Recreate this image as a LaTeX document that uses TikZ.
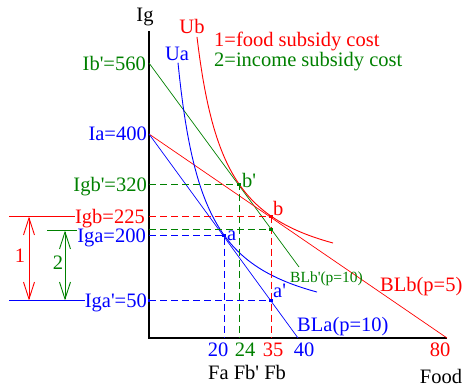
\documentclass[tikz,border=0pt]{standalone}
\usepackage{fontspec}
\setmainfont{Liberation Serif}[Ligatures=TeXOff]
\usepackage{xcolor}
\definecolor{costRed}{HTML}{FF0000}
\definecolor{incGreen}{HTML}{008000}
\definecolor{foodBlue}{HTML}{0000FF}
\usetikzlibrary{positioning,calc,arrows.meta}
\newcommand{\tagfont}{\fontsize{20.5}{22}\selectfont}
\newcommand{\smalltagfont}{\fontsize{15.5}{17}\selectfont}
\tikzset{%
  axisLine/.style={%
    black,
    line width=1.2pt
  },
  budgetLine/.style={%
    line width=0.7pt
  },
  curveLine/.style={%
    line width=0.9pt
  },
  guideLine/.style={%
    line width=0.9pt,
    dash pattern=on 7pt off 4pt
  },
  tagLabel/.style={%
    font=\tagfont,
    inner sep=0pt,
    text depth=0pt
  },
  smallTag/.style={%
    font=\smalltagfont,
    inner sep=0pt
  },
  dotMark/.style={%
    rectangle,
    inner sep=0pt,
    minimum size=3.6pt
  },
  costArrow/.style={%
    {Straight Barb[length=17pt,width=11pt]}-{Straight Barb[length=17pt,width=11pt]},
    line width=0.9pt
  }
}

\begin{document}
\begin{tikzpicture}[x=1pt,y=-1pt]
  \useasboundingbox (0,0) rectangle (468,388);

  % axes
  \coordinate (origin) at (149,338);
  \coordinate (igTop) at (149,31);
  \coordinate (foodEnd) at (447,338);
  \draw[axisLine] (igTop) -- (origin) -- (foodEnd);
  \node[tagLabel, anchor=base, text depth=] (igLabel) at (145,21) {Ig};
  \node[tagLabel] (foodLabel) at (441,376) {Food};

  % budget lines
  \coordinate (Ibp) at (149,63);
  \coordinate (Ia) at (149,134);
  \coordinate (BLaEnd) at (298,338);
  \coordinate (BLbpEnd) at (299,267);
  \draw[budgetLine, incGreen] (Ibp) -- (BLbpEnd);
  \draw[budgetLine, costRed] (Ia) -- (foodEnd);
  \draw[budgetLine, foodBlue] (Ia) -- (BLaEnd);

  % indifference curves
  \draw[curveLine, foodBlue] plot[domain=178:317, samples=90] (\x,{336.9-7457/(\x-150.8)});
  \draw[curveLine, costRed] plot[domain=197:333, samples=90] (\x,{288-7457/(\x-167.3)});

  % chosen points
  \coordinate (bp) at (239,184.5);
  \coordinate (b) at (271,216.5);
  \coordinate (g) at (271,229.5);
  \coordinate (a) at (224,235.5);
  \coordinate (ap) at (271,300.5);

  % guides to the axes
  \draw[guideLine, incGreen] (origin |- bp) -- (bp) -- (bp |- origin);
  \draw[guideLine, costRed] (origin |- b) -- (b) -- (b |- origin);
  \draw[guideLine, incGreen] (origin |- g) -- (g);
  \draw[guideLine, foodBlue] (origin |- a) -- (a) -- (a |- origin);
  \draw[guideLine, foodBlue] (origin |- ap) -- (ap);

  \node[dotMark, fill=incGreen] (bpDot) at (bp) {};
  \node[dotMark, fill=costRed] (bDot) at (b) {};
  \node[dotMark, fill=incGreen] (gDot) at (g) {};
  \node[dotMark, fill=foodBlue] (aDot) at (a) {};
  \node[dotMark, fill=foodBlue] (apDot) at (ap) {};
  \node[dotMark, fill=foodBlue, minimum size=2.6pt] (iapDot) at (origin |- ap) {};

  % point names
  \node[tagLabel, foodBlue, anchor=base west] (aTag) at (227,240) {a};
  \node[tagLabel, incGreen, anchor=base west] (bpTag) at (242,187) {b'};
  \node[tagLabel, costRed, anchor=base west] (bTag) at (273,215) {b};
  \node[tagLabel, foodBlue, anchor=base west] (apTag) at (273,297) {a'};

  % curve and line names
  \node[tagLabel, costRed, anchor=base] (UbTag) at (192,33) {Ub};
  \node[tagLabel, foodBlue, anchor=base] (UaTag) at (177,60) {Ua};
  \node[smallTag, incGreen, anchor=base west] (BLbpTag) at (290,282) {BLb'(p=10)};
  \node[tagLabel, foodBlue, anchor=base west, text depth=] (BLaTag) at (297,331) {BLa(p=10)};
  \node[tagLabel, costRed, anchor=base west, text depth=] (BLbTag) at (380,291) {BLb(p=5)};

  % legend
  \node[tagLabel, costRed, anchor=base west, text depth=] (legendOne) at (214,46) {1=food subsidy cost};
  \node[tagLabel, incGreen, anchor=base west, text depth=] (legendTwo) at (214,66) {2=income subsidy cost};

  % income values
  \coordinate (Igbp) at (origin |- bp);
  \coordinate (Igb) at (origin |- b);
  \coordinate (Iga) at (origin |- a);
  \coordinate (Igap) at (origin |- ap);
  \node[tagLabel, incGreen, left=3pt of Ibp] (IbpLabel) {Ib'=560};
  \node[tagLabel, foodBlue, left=2pt of Ia] (IaLabel) {Ia=400};
  \node[tagLabel, incGreen, left=2pt of Igbp] (IgbpLabel) {Igb'=320};
  \node[tagLabel, costRed, left=4pt of Igb] (IgbLabel) {Igb=225};
  \node[tagLabel, foodBlue, left=3pt of Iga] (IgaLabel) {Iga=200};
  \node[tagLabel, foodBlue, left=2pt of Igap] (IgapLabel) {Iga'=50};

  % food values
  \node[tagLabel, foodBlue] (FaVal) at (218,350) {20};
  \node[tagLabel, incGreen] (FbpVal) at (245,350) {24};
  \node[tagLabel, costRed] (FbVal) at (273,350) {35};
  \node[tagLabel, foodBlue] (FlVal) at (304,350) {40};
  \node[tagLabel, costRed] (FhVal) at (440,350) {80};
  \node[tagLabel, anchor=west] (FoodNames) at (208,372.5) {Fa Fb' Fb};

  % subsidy costs
  \coordinate (oneLeft) at (9,216.5);
  \coordinate (twoLeft) at (47,230.5);
  \coordinate (baseLeft) at (9,300.5);
  \draw[budgetLine, costRed] (oneLeft) -- (oneLeft -| IgbLabel.west);
  \draw[budgetLine, incGreen] (twoLeft) -- (twoLeft -| IgaLabel.west);
  \draw[budgetLine, foodBlue] (baseLeft) -- (baseLeft -| IgapLabel.west);
  \coordinate (oneTop) at (29,216.5);
  \coordinate (oneBot) at (29,300.5);
  \coordinate (twoTop) at (65,230.5);
  \coordinate (twoBot) at (65,300.5);
  \draw[costArrow, costRed] (oneTop) -- (oneBot);
  \draw[costArrow, incGreen] (twoTop) -- (twoBot);
  \node[tagLabel, costRed] (oneTag) at (20,256) {1};
  \node[tagLabel, incGreen] (twoTag) at (58,263) {2};
\end{tikzpicture}
\end{document}
